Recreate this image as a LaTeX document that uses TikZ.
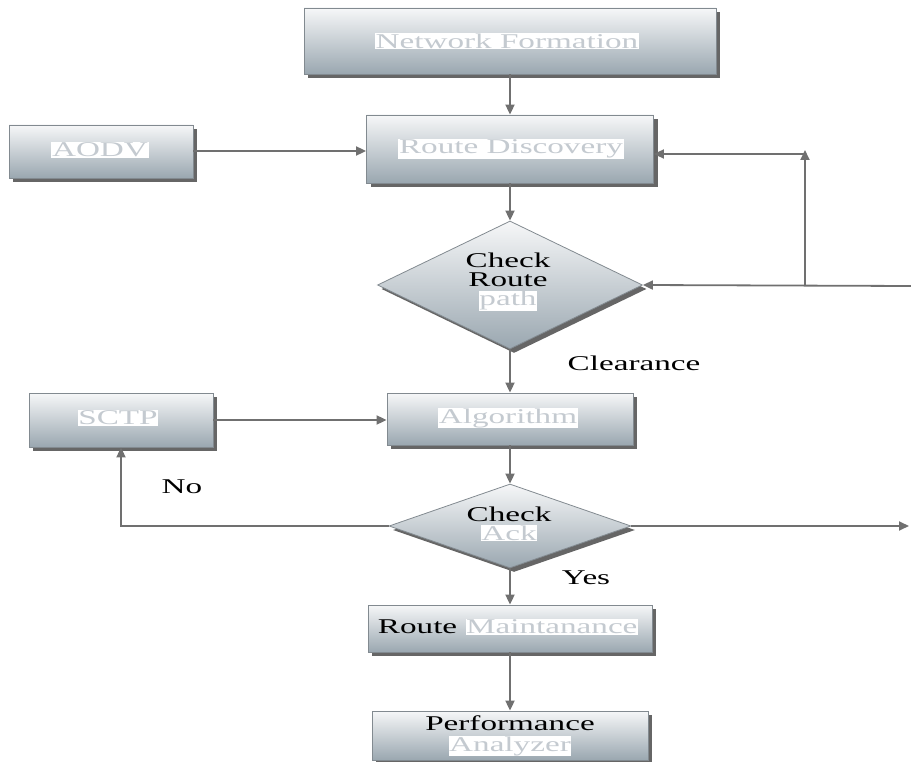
\documentclass[tikz,border=0pt]{standalone}
\usepackage{fontspec}
\setmainfont{Liberation Serif}[FakeStretch=1.58]
\usetikzlibrary{arrows.meta,shapes.geometric,shadows}
\definecolor{boxtop}{RGB}{246,247,248}
\definecolor{boxbot}{RGB}{154,167,176}
\definecolor{boxline}{RGB}{130,138,144}
\definecolor{lighttxt}{RGB}{196,202,208}
\definecolor{conn}{RGB}{112,112,112}
\newcommand\lighttext[1]{{\setlength\fboxsep{0.6pt}\colorbox{white}{\textcolor{lighttxt}{#1}}}}
\tikzset{
  boxshape/.style={rectangle, draw=boxline, line width=0.8pt, top color=boxtop, bottom color=boxbot,
    general shadow={shadow xshift=4pt, shadow yshift=-4pt, fill=black!60}, inner sep=0pt},
  decshape/.style={diamond, draw=boxline, line width=0.8pt, top color=boxtop, bottom color=boxbot,
    general shadow={shadow xshift=4pt, shadow yshift=-4pt, fill=black!60}, inner sep=0pt},
  txt/.style={font=\fontsize{21}{19}\selectfont, align=center, inner sep=0pt, text=black},
  conn/.style={draw=conn, line width=1.8pt},
  arr/.style={conn, -{Triangle[length=10pt,width=9pt]}}
}
\begin{document}
\begin{tikzpicture}[x=1pt,y=-1pt]
\useasboundingbox (0,0) rectangle (911,762);
% boxes
\node[boxshape, minimum width=412pt, minimum height=66pt] (nf) at (510,41) {};
\node[boxshape, minimum width=287pt, minimum height=68pt] (rd) at (510,149) {};
\node[boxshape, minimum width=184pt, minimum height=53pt] (aodv) at (101,151.5) {};
\node[decshape, minimum width=265pt, minimum height=128pt] (cr) at (510,285) {};
\node[boxshape, minimum width=246pt, minimum height=52pt] (alg) at (510,419) {};
\node[boxshape, minimum width=184pt, minimum height=54pt] (sctp) at (121,420) {};
\node[decshape, minimum width=242pt, minimum height=84pt] (ca) at (510,526) {};
\node[boxshape, minimum width=284pt, minimum height=47pt] (rm) at (510,628.5) {};
\node[boxshape, minimum width=276pt, minimum height=49pt] (pa) at (510,735.5) {};
% texts
\node[txt] (tnf) at (507,41) {\lighttext{Network Formation}};
\node[txt] (trd) at (511,149) {\lighttext{Route Discovery}};
\node[txt] (taodv) at (100,150) {\lighttext{AODV}};
\node[txt] (tcr) at (508,282) {Check\\Route\\\lighttext{path}};
\node[txt] (talg) at (508,418) {\lighttext{Algorithm}};
\node[txt] (tsctp) at (118,418) {\lighttext{SCTP}};
\node[txt] (tca) at (509,524) {Check\\\lighttext{Ack}};
\node[txt] (trm) at (508,627) {Route \lighttext{Maintanance}};
\node[txt, font=\fontsize{21}{21}\selectfont] (tpa) at (510,736) {Performance\\\lighttext{Analyzer}};
\node[txt] (lclr) at (634,363) {Clearance};
\node[txt] (lno) at (182,487) {No};
\node[txt] (lyes) at (586,578) {Yes};
% coordinates
\coordinate (c1) at (911,286);
\coordinate (c2) at (805,286);
\coordinate (c3) at (805,150);
\coordinate (c4) at (806,154);
\coordinate (c5) at (909,526);
% connectors
\draw[arr] (nf.south) -- (rd.north);
\draw[arr] (aodv.east |- 0,151) -- (rd.west |- 0,151);
\draw[arr] (rd.south) -- (cr.north);
\draw[arr] (c1) -- (cr.east);
\draw[arr] (c2) -- (c3);
\draw[arr] (c4) -- (c4 -| rd.east);
\draw[arr] (cr.south) -- (alg.north);
\draw[arr] (sctp.east) -- (sctp.east -| alg.west);
\draw[arr] (alg.south) -- (ca.north);
\draw[arr] (ca.west) -| (sctp.south);
\draw[arr] (ca.east) -- (c5);
\draw[arr] (ca.south) -- (rm.north);
\draw[arr] (rm.south) -- (pa.north);
\end{tikzpicture}
\end{document}
